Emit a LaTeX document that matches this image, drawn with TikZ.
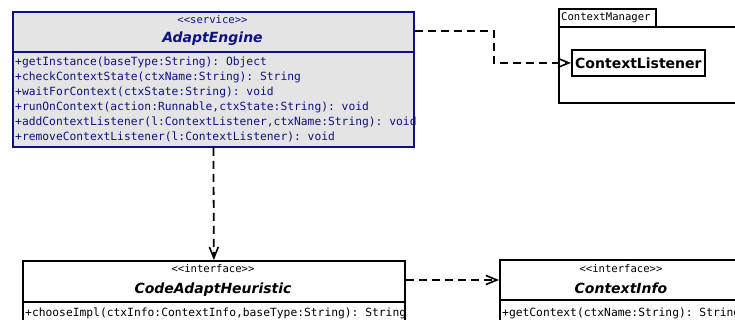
\documentclass[tikz,border=0pt]{standalone}
\usepackage{fontspec}
\setmainfont{DejaVu Sans}
\setmonofont{DejaVu Sans Mono}
\usetikzlibrary{arrows.meta}
\definecolor{navy}{RGB}{16,16,128}
\definecolor{classgray}{RGB}{228,228,228}

\begin{document}
\begin{tikzpicture}[x=1pt,y=-1pt,
  box/.style={draw, line width=1.8pt, inner sep=0pt, anchor=north west},
  engbox/.style={box, draw=navy, fill=classgray},
  sep/.style={line width=1.8pt},
  stereo/.style={font=\fontsize{10.6}{12}\ttfamily, inner sep=0pt, anchor=base},
  cname/.style={font=\fontsize{14}{16}\bfseries\itshape, inner sep=0pt, anchor=base},
  op/.style={font=\fontsize{11.3}{13}\ttfamily, inner sep=0pt, anchor=base west},
  pkglabel/.style={font=\fontsize{10.6}{12}\ttfamily, inner sep=0pt, anchor=base west},
  dep/.style={line width=1.8pt, dash pattern=on 8pt off 5pt,
    -{Straight Barb[length=11pt,width=9pt,line width=1.6pt]}}
]
\useasboundingbox (0,0) rectangle (735,320);
\clip (0,0) rectangle (735,320);

% ---- service class AdaptEngine ----
\node[engbox, minimum width=401, minimum height=135] (engine) at (12,11) {};
\draw[sep, navy] ([yshift=-41pt]engine.north west) -- ([yshift=-41pt]engine.north east);
\node[stereo, text=navy] (engst) at (212.5,24) {<<service>>};
\node[cname, text=navy] (engname) at (212.5,43) {AdaptEngine};
\begin{scope}[every node/.style={op, text=navy}]
  \node (op1) at (15,66)  {+getInstance(baseType:String): Object};
  \node (op2) at (15,81)  {+checkContextState(ctxName:String): String};
  \node (op3) at (15,96)  {+waitForContext(ctxState:String): void};
  \node (op4) at (15,111) {+runOnContext(action:Runnable,ctxState:String): void};
  \node (op5) at (15,126) {+addContextListener(l:ContextListener,ctxName:String): void};
  \node (op6) at (15,141) {+removeContextListener(l:ContextListener): void};
\end{scope}

% ---- package ContextManager ----
\node[box, minimum width=97, minimum height=18] (pkgtab) at (558,8) {};
\node[box, minimum width=200, minimum height=76] (pkg) at (558,26) {};
\node[pkglabel] (pkgname) at (561,21) {ContextManager};
\node[box, minimum width=133, minimum height=26,
      font=\fontsize{14}{16}\bfseries] (listener) at (571,49) {ContextListener};

% ---- interface CodeAdaptHeuristic ----
\node[box, fill=white, minimum width=382, minimum height=70] (heur) at (22,260) {};
\draw[sep] ([yshift=-42pt]heur.north west) -- ([yshift=-42pt]heur.north east);
\node[stereo] (heurst) at (213,272) {<<interface>>};
\node[cname] (heurname) at (213,293) {CodeAdaptHeuristic};
\node[op] (heurop) at (25,316) {+chooseImpl(ctxInfo:ContextInfo,baseType:String): String};

% ---- interface ContextInfo ----
\node[box, fill=white, minimum width=260, minimum height=71] (info) at (499,259) {};
\draw[sep] ([yshift=-41pt]info.north west) -- ([yshift=-41pt]info.north east);
\node[stereo] (infost) at (621,272) {<<interface>>};
\node[cname] (infoname) at (621,293) {ContextInfo};
\node[op] (infoop) at (502,316) {+getContext(ctxName:String): String};

% ---- dependencies ----
\draw[dep] ([yshift=-20pt]engine.north east) -- ++(79,0) |- (listener.west);
\draw[dep] (engine.south) -- (heur.north);
\draw[dep] ([yshift=-20pt]heur.north east) -- ([yshift=-21pt]info.north west);
\end{tikzpicture}
\end{document}
